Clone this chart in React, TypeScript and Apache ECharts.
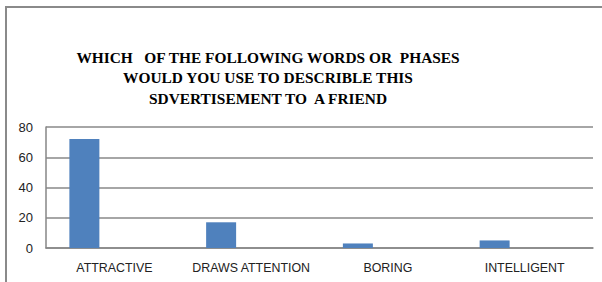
import React, { useEffect, useRef } from "react";
import * as echarts from "echarts";

const categories = ["ATTRACTIVE", "DRAWS ATTENTION", "BORING", "INTELLIGENT"];
const seriesValues = [72, 17, 3, 5];
const emptySeries = [null, null, null, null];
const yTicks = { min: 0, max: 80, interval: 20 };
const titleLines = [
  "WHICH   OF THE FOLLOWING WORDS OR  PHASES",
  "WOULD YOU USE TO DESCRIBLE THIS",
  "SDVERTISEMENT TO  A FRIEND",
];

export default function App() {
  const ref = useRef<HTMLDivElement>(null);
  useEffect(() => {
    document.body.style.margin = "0";
    const chart = echarts.init(ref.current!, null, { renderer: "svg" });
    chart.setOption({
      animation: false,
      backgroundColor: "#ffffff",
      graphic: [
        {
          type: "rect",
          shape: { x: 6, y: 7, width: 620, height: 300 },
          style: { fill: "none", stroke: "#8a8a8a", lineWidth: 2 },
          z: 10,
        },
        ...titleLines.map((t, i) => ({
          type: "text",
          x: 268,
          y: 57 + i * 20.5,
          style: {
            text: t,
            fontFamily: "'Liberation Serif', 'Times New Roman', serif",
            fontWeight: "bold",
            fontSize: 15.4,
            fill: "#000",
            align: "center",
            verticalAlign: "middle",
          },
        })),
      ],
      grid: { left: 46, right: 9, top: 127, bottom: 34 },
      xAxis: {
        type: "category",
        data: categories,
        axisLine: { show: true, lineStyle: { color: "#868686", width: 1.5 } },
        axisTick: { show: false },
        splitLine: { show: false },
        axisLabel: {
          margin: 14,
          fontFamily: "Liberation Sans",
          fontSize: 12.4,
          color: "#222",
          interval: 0,
        },
      },
      yAxis: {
        type: "value",
        min: yTicks.min,
        max: yTicks.max,
        interval: yTicks.interval,
        axisLine: { show: true, lineStyle: { color: "#868686", width: 1.5 } },
        axisTick: { show: false },
        splitLine: { show: true, lineStyle: { color: "#898989", width: 1.5 } },
        axisLabel: {
          margin: 13,
          fontFamily: "Liberation Sans",
          fontSize: 13,
          color: "#222",
        },
      },
      series: [
        { type: "bar", data: seriesValues, barWidth: 30, barGap: "0%", itemStyle: { color: "#4f81bd" } },
        { type: "bar", data: emptySeries, barWidth: 30, barGap: "0%" },
        { type: "bar", data: emptySeries, barWidth: 30, barGap: "0%" },
      ],
    });
    return () => chart.dispose();
  }, []);
  return <div ref={ref} style={{ width: 602, height: 282 }} />;
}
